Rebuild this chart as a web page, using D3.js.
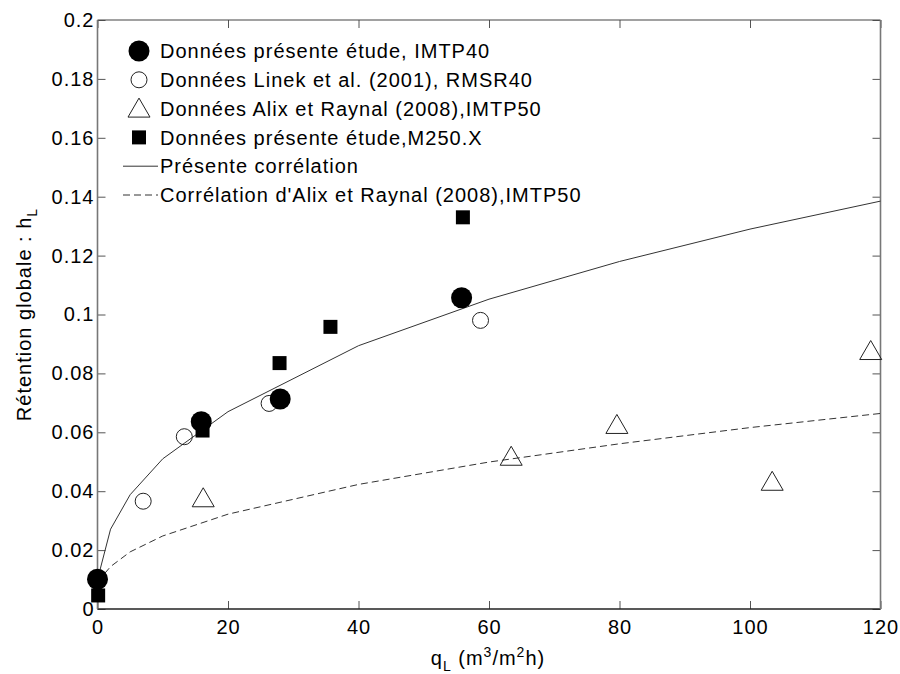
<!DOCTYPE html>
<html><head><meta charset="utf-8">
<script src="https://cdn.jsdelivr.net/npm/d3@7"></script>
<style>body{margin:0;background:#fff}text{font-family:"Liberation Sans",Arial,sans-serif;fill:#000}</style>
</head><body>
<svg id="c" width="900" height="674"></svg>
<script>
// ---- data ----
const xTicks = [0, 20, 40, 60, 80, 100, 120];
const xTickLabels = ["0", "20", "40", "60", "80", "100", "120"];
const yTicks = [0, 0.02, 0.04, 0.06, 0.08, 0.1, 0.12, 0.14, 0.16, 0.18, 0.2];
const yTickLabels = ["0", "0.02", "0.04", "0.06", "0.08", "0.1", "0.12", "0.14", "0.16", "0.18", "0.2"];

const imtp40Q = [0, 15.9, 28.0, 55.8];
const imtp40H = [0.0101, 0.0636, 0.0713, 0.1057];

const linekQ = [7.0, 13.3, 26.3, 58.7];
const linekH = [0.0366, 0.0585, 0.0698, 0.0980];

const alixQ = [16.2, 63.4, 79.6, 103.4, 118.5];
const alixH = [0.0376, 0.0517, 0.0625, 0.0432, 0.0876];

const m250Q = [0.1, 16.1, 27.9, 35.7, 56.0];
const m250H = [0.0046, 0.0606, 0.0835, 0.0958, 0.1330];

const corrQ = [0, 2, 5, 10, 20, 40, 60, 80, 100, 120];
const corrH = [0.010, 0.0271, 0.0388, 0.0510, 0.0670, 0.0894, 0.1052, 0.1180, 0.1290, 0.1385];

const alixCorrQ = [0, 1, 2, 5, 10, 20, 40, 60, 80, 100, 120];
const alixCorrH = [0.0050, 0.0118, 0.0144, 0.0194, 0.0248, 0.0322, 0.0423, 0.0499, 0.0561, 0.0616, 0.0664];

const legendLabels = [
  "Données présente étude, IMTP40",
  "Données Linek et al. (2001), RMSR40",
  "Données Alix et Raynal (2008),IMTP50",
  "Données présente étude,M250.X",
  "Présente corrélation",
  "Corrélation d'Alix et Raynal (2008),IMTP50"
];

// ---- chart ----
const svg = d3.select("#c");
const L = 97.5, R = 880.5, T = 20, B = 609;
const x = d3.scaleLinear().domain([0, 120]).range([L, R]);
const y = d3.scaleLinear().domain([0, 0.2]).range([B, T]);
const tickLen = 8;
const tickCol = "#555";
const FS = 20, LS = "1px";

const xb = svg.append("g").attr("transform", `translate(0,${B})`)
  .call(d3.axisBottom(x).tickValues(xTicks).tickSize(-tickLen).tickPadding(11)
    .tickFormat((d, i) => xTickLabels[i]));
const xt = svg.append("g").attr("transform", `translate(0,${T})`)
  .call(d3.axisTop(x).tickValues(xTicks).tickSize(-tickLen).tickFormat(""));
const yl = svg.append("g").attr("transform", `translate(${L},0)`)
  .call(d3.axisLeft(y).tickValues(yTicks).tickSize(-tickLen).tickPadding(3)
    .tickFormat((d, i) => yTickLabels[i]));
const yr = svg.append("g").attr("transform", `translate(${R},0)`)
  .call(d3.axisRight(y).tickValues(yTicks).tickSize(-tickLen).tickFormat(""));
[xb, xt, yl, yr].forEach(g => {
  g.select(".domain").remove();
  g.selectAll(".tick line").attr("stroke", tickCol).attr("stroke-width", 1);
  g.selectAll(".tick text").attr("font-size", FS).attr("fill", "#000")
    .style("letter-spacing", LS)
    .style("font-family", '"Liberation Sans",Arial,sans-serif');
});
// frame
svg.append("line").attr("x1", L).attr("x2", R).attr("y1", B).attr("y2", B).attr("stroke", "#222").attr("stroke-width", 1.5);
svg.append("line").attr("x1", L).attr("x2", R).attr("y1", T).attr("y2", T).attr("stroke", "#444").attr("stroke-width", 1.2);
svg.append("line").attr("x1", L).attr("x2", L).attr("y1", T).attr("y2", B).attr("stroke", "#777").attr("stroke-width", 1.6);
svg.append("line").attr("x1", R).attr("x2", R).attr("y1", T).attr("y2", B).attr("stroke", "#777").attr("stroke-width", 1.6);

// axis titles
const xl = svg.append("text").attr("x", 488).attr("y", 665).attr("text-anchor", "middle")
  .attr("font-size", FS).style("letter-spacing", LS);
xl.append("tspan").text("q");
xl.append("tspan").text("L").attr("font-size", 14).attr("dy", 6);
xl.append("tspan").text(" (m").attr("dy", -6);
xl.append("tspan").text("3").attr("font-size", 14).attr("dy", -8);
xl.append("tspan").text("/m").attr("dy", 8);
xl.append("tspan").text("2").attr("font-size", 14).attr("dy", -8);
xl.append("tspan").text("h)").attr("dy", 8);

const ylab = svg.append("text").attr("transform", `translate(31,${(T + B) / 2}) rotate(-90)`)
  .attr("text-anchor", "middle").attr("font-size", FS).style("letter-spacing", LS);
ylab.append("tspan").text("Rétention globale : h");
ylab.append("tspan").text("L").attr("font-size", 14).attr("dy", 6);

// lines
const line = d3.line().x(d => x(d[0])).y(d => y(d[1]));
svg.append("path").datum(corrQ.map((q, i) => [q, corrH[i]])).attr("d", line)
  .attr("fill", "none").attr("stroke", "#333").attr("stroke-width", 1);
svg.append("path").datum(alixCorrQ.map((q, i) => [q, alixCorrH[i]])).attr("d", line)
  .attr("fill", "none").attr("stroke", "#333").attr("stroke-width", 1).attr("stroke-dasharray", "7,4");

// markers
const sym = {
  openCircle: d3.symbol().type(d3.symbolCircle).size(Math.PI * 8 * 8),
  square: d3.symbol().type(d3.symbolSquare).size(14 * 14),
  filled: d3.symbol().type(d3.symbolCircle).size(Math.PI * 10.5 * 10.5)
};
function triPath(cx, cy) {
  const w = 22, h = 19;
  return `M${cx},${cy - h / 2 - 1}L${cx + w / 2},${cy + h / 2 - 1}L${cx - w / 2},${cy + h / 2 - 1}Z`;
}
svg.append("g").selectAll("path").data(linekQ.map((q, i) => [q, linekH[i]])).join("path")
  .attr("d", sym.openCircle).attr("transform", d => `translate(${x(d[0])},${y(d[1])})`)
  .attr("fill", "none").attr("stroke", "#222").attr("stroke-width", 1);
svg.append("g").selectAll("path").data(alixQ.map((q, i) => [q, alixH[i]])).join("path")
  .attr("d", d => triPath(x(d[0]), y(d[1])))
  .attr("fill", "none").attr("stroke", "#222").attr("stroke-width", 1);
svg.append("g").selectAll("path").data(m250Q.map((q, i) => [q, m250H[i]])).join("path")
  .attr("d", sym.square).attr("transform", d => `translate(${x(d[0])},${y(d[1])})`)
  .attr("fill", "#000");
svg.append("g").selectAll("path").data(imtp40Q.map((q, i) => [q, imtp40H[i]])).join("path")
  .attr("d", sym.filled).attr("transform", d => `translate(${x(d[0])},${y(d[1])})`)
  .attr("fill", "#000");

// legend
const lgX = 139, lgY0 = 51, lgDy = 28.8, txtX = 160;
legendLabels.forEach((t, i) => {
  const cy = lgY0 + i * lgDy;
  if (i === 0) svg.append("path").attr("d", sym.filled).attr("transform", `translate(${lgX},${cy})`).attr("fill", "#000");
  if (i === 1) svg.append("path").attr("d", sym.openCircle).attr("transform", `translate(${lgX},${cy})`).attr("fill", "none").attr("stroke", "#222");
  if (i === 2) svg.append("path").attr("d", triPath(lgX, cy)).attr("fill", "none").attr("stroke", "#222");
  if (i === 3) svg.append("path").attr("d", sym.square).attr("transform", `translate(${lgX},${cy})`).attr("fill", "#000");
  if (i === 4) svg.append("line").attr("x1", 123).attr("x2", 158).attr("y1", cy).attr("y2", cy).attr("stroke", "#333");
  if (i === 5) svg.append("line").attr("x1", 123).attr("x2", 158).attr("y1", cy).attr("y2", cy).attr("stroke", "#333").attr("stroke-dasharray", "7,4");
  svg.append("text").attr("x", txtX).attr("y", cy).attr("dy", "0.36em").attr("font-size", FS)
    .style("letter-spacing", LS).text(t);
});
</script>
</body></html>
